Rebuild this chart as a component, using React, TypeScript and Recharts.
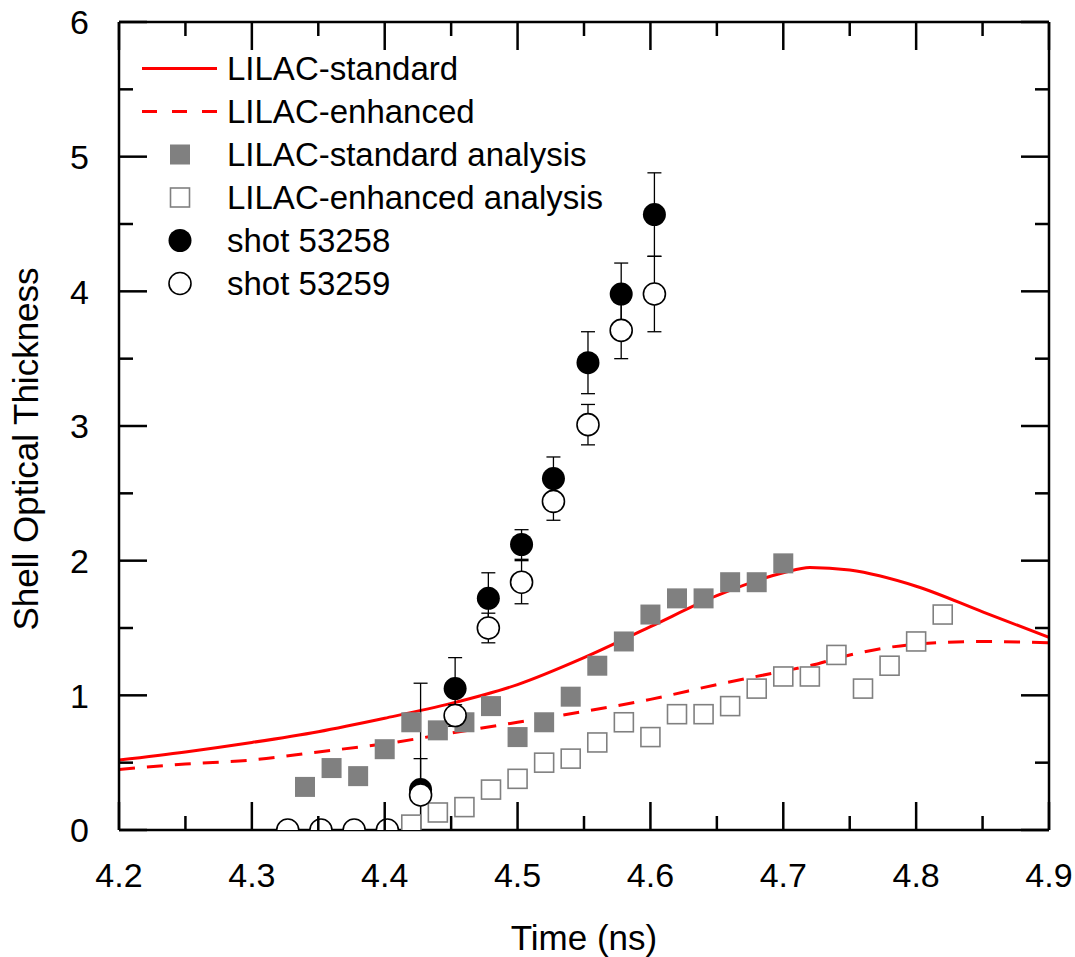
import React from 'react';
import { ComposedChart, Line, Scatter, XAxis, YAxis, ErrorBar, Legend } from 'recharts';

const FONT = '"Liberation Sans", Arial, sans-serif';

// LILAC model curves
const modelTime = [4.2, 4.25, 4.3, 4.35, 4.4, 4.45, 4.5, 4.55, 4.6, 4.65, 4.7, 4.72, 4.75, 4.8, 4.85, 4.9];
const standardModel = [0.52, 0.58, 0.65, 0.73, 0.83, 0.94, 1.08, 1.28, 1.51, 1.74, 1.91, 1.95, 1.93, 1.81, 1.62, 1.43];
const enhancedModel = [0.45, 0.49, 0.52, 0.58, 0.64, 0.72, 0.8, 0.88, 0.97, 1.08, 1.18, 1.22, 1.3, 1.38, 1.4, 1.39];

// analysis points
const standardAnalysisTime = [4.34, 4.36, 4.38, 4.4, 4.42, 4.44, 4.46, 4.48, 4.5, 4.52, 4.54, 4.56, 4.58, 4.6, 4.62, 4.64, 4.66, 4.68, 4.7];
const standardAnalysis = [0.32, 0.46, 0.4, 0.6, 0.8, 0.74, 0.8, 0.92, 0.69, 0.8, 0.99, 1.22, 1.4, 1.6, 1.72, 1.72, 1.84, 1.84, 1.98];
const enhancedAnalysisTime = [4.42, 4.44, 4.46, 4.48, 4.5, 4.52, 4.54, 4.56, 4.58, 4.6, 4.62, 4.64, 4.66, 4.68, 4.7, 4.72, 4.74, 4.76, 4.78, 4.8, 4.82];
const enhancedAnalysis = [0.04, 0.13, 0.17, 0.3, 0.38, 0.5, 0.53, 0.65, 0.8, 0.69, 0.86, 0.86, 0.92, 1.05, 1.14, 1.14, 1.3, 1.05, 1.22, 1.4, 1.6];

// measured shots
const shot53258Time = [4.427, 4.453, 4.478, 4.503, 4.527, 4.553, 4.578, 4.603];
const shot53258 = [0.3, 1.05, 1.72, 2.12, 2.61, 3.47, 3.98, 4.57];
const shot53258Err = [0.79, 0.23, 0.19, 0.11, 0.16, 0.23, 0.23, 0.31];
const shot53259Time = [4.327, 4.352, 4.377, 4.402, 4.427, 4.453, 4.478, 4.503, 4.527, 4.553, 4.578, 4.603];
const shot53259 = [0, 0, 0, 0, 0.26, 0.85, 1.5, 1.84, 2.44, 3.01, 3.71, 3.98];
const shot53259Err = [0, 0, 0, 0, 0.27, 0.08, 0.11, 0.16, 0.14, 0.15, 0.21, 0.28];

// axis ticks (major + minor)
const xTicks = [4.2, 4.25, 4.3, 4.35, 4.4, 4.45, 4.5, 4.55, 4.6, 4.65, 4.7, 4.75, 4.8, 4.85, 4.9];
const yTicks = [0, 0.5, 1, 1.5, 2, 2.5, 3, 3.5, 4, 4.5, 5, 5.5, 6];

// error bars are cut at the bottom of the axis (y = 0)
const toPoints = (ts: number[], vs: number[], es?: number[]) =>
  ts.map((t, i) => ({ t, v: vs[i], err: es ? [Math.min(es[i], vs[i]), es[i]] : 0 }));

const isMajor = (v: number, step: number) => Math.abs(v / step - Math.round(v / step)) < 1e-6;

const MAJOR = 28;
const MINOR = 14;
const AXIS_W = 2.5;

const BottomTick = (props: any) => {
  const { x, y, payload } = props;
  const major = isMajor(payload.value, 0.1);
  return (
    <g>
      <line x1={x} x2={x} y1={y} y2={y - (major ? MAJOR : MINOR)} stroke="#000" strokeWidth={AXIS_W} />
      {major && (
        <text x={x} y={y + 57} textAnchor="middle" fontSize={34} fontFamily={FONT} fill="#000">
          {payload.value.toFixed(1)}
        </text>
      )}
    </g>
  );
};

const TopTick = (props: any) => {
  const { x, y, payload } = props;
  const major = isMajor(payload.value, 0.1);
  return <line x1={x} x2={x} y1={y} y2={y + (major ? MAJOR : MINOR)} stroke="#000" strokeWidth={AXIS_W} />;
};

const LeftTick = (props: any) => {
  const { x, y, payload } = props;
  const major = isMajor(payload.value, 1);
  return (
    <g>
      <line x1={x} x2={x + (major ? MAJOR : MINOR)} y1={y} y2={y} stroke="#000" strokeWidth={AXIS_W} />
      {major && (
        <text x={x - 30} y={y} dy="0.36em" textAnchor="end" fontSize={34} fontFamily={FONT} fill="#000">
          {payload.value}
        </text>
      )}
    </g>
  );
};

const RightTick = (props: any) => {
  const { x, y, payload } = props;
  const major = isMajor(payload.value, 1);
  return <line x1={x} x2={x - (major ? MAJOR : MINOR)} y1={y} y2={y} stroke="#000" strokeWidth={AXIS_W} />;
};

const FilledSquare = (p: any) => <rect x={p.cx - 10} y={p.cy - 10} width={20} height={20} fill="#808080" />;
const OpenSquare = (p: any) => (
  <rect x={p.cx - 9.5} y={p.cy - 9.5} width={19} height={19} fill="#fff" stroke="#808080" strokeWidth={1.6} />
);
const FilledCircle = (p: any) => <circle cx={p.cx} cy={p.cy} r={11.5} fill="#000" />;
const OpenCircle = (p: any) => {
  const r = 11;
  // points sitting on the lower axis are cut by the plot frame
  if (p.payload && p.payload.v === 0) {
    return (
      <path
        d={`M ${p.cx - r} ${p.cy} A ${r} ${r} 0 0 1 ${p.cx + r} ${p.cy}`}
        fill="#fff"
        stroke="#000"
        strokeWidth={1.6}
      />
    );
  }
  return <circle cx={p.cx} cy={p.cy} r={r} fill="#fff" stroke="#000" strokeWidth={1.6} />;
};

const legendRows = [
  { name: 'LILAC-standard', kind: 'solid' },
  { name: 'LILAC-enhanced', kind: 'dashed' },
  { name: 'LILAC-standard analysis', kind: 'fsquare' },
  { name: 'LILAC-enhanced analysis', kind: 'osquare' },
  { name: 'shot 53258', kind: 'fcircle' },
  { name: 'shot 53259', kind: 'ocircle' },
];

const LegendSymbol = ({ kind }: { kind: string }) => {
  const cy = 21.5;
  let el: React.ReactNode = null;
  if (kind === 'solid') el = <line x1={2} x2={77} y1={cy} y2={cy} stroke="#ff0000" strokeWidth={3} />;
  if (kind === 'dashed')
    el = <line x1={2} x2={77} y1={cy} y2={cy} stroke="#ff0000" strokeWidth={3} strokeDasharray="15 15" />;
  if (kind === 'fsquare') el = <FilledSquare cx={40} cy={cy} />;
  if (kind === 'osquare') el = <OpenSquare cx={40} cy={cy} />;
  if (kind === 'fcircle') el = <FilledCircle cx={40} cy={cy} />;
  if (kind === 'ocircle') el = <OpenCircle cx={40} cy={cy} />;
  return (
    <svg width={87} height={43} style={{ display: 'block', flex: 'none' }}>
      {el}
    </svg>
  );
};

const LegendBox = () => (
  <div style={{ fontFamily: FONT, fontSize: 33, color: '#000' }}>
    {legendRows.map((r) => (
      <div key={r.name} style={{ display: 'flex', alignItems: 'center', height: 43, whiteSpace: 'nowrap' }}>
        <LegendSymbol kind={r.kind} />
        <span style={{ lineHeight: '43px' }}>{r.name}</span>
      </div>
    ))}
  </div>
);

const App: React.FC = () => {
  return (
    <div style={{ position: 'absolute', left: 0, top: 0, background: '#fff' }}>
      <ComposedChart width={1075} height={957} margin={{ top: 21, right: 25, bottom: 0, left: 0 }}>
        <XAxis
          xAxisId={0}
          dataKey="t"
          type="number"
          domain={[4.2, 4.9]}
          allowDataOverflow
          ticks={xTicks}
          interval={0}
          height={127}
          tickSize={0}
          tickMargin={0}
          tickLine={false}
          axisLine={{ stroke: '#000', strokeWidth: AXIS_W }}
          tick={(p: any) => <BottomTick {...p} />}
          label={{
            content: (p: any) => {
              const vb = p.viewBox;
              return (
                <text x={vb.x + vb.width / 2} y={vb.y + 120} textAnchor="middle" fontSize={35} fontFamily={FONT} fill="#000">
                  Time (ns)
                </text>
              );
            },
          }}
        />
        <XAxis
          xAxisId="top"
          orientation="top"
          dataKey="t"
          type="number"
          domain={[4.2, 4.9]}
          allowDataOverflow
          ticks={xTicks}
          interval={0}
          height={1}
          tickSize={0}
          tickMargin={0}
          tickLine={false}
          axisLine={{ stroke: '#000', strokeWidth: AXIS_W }}
          tick={(p: any) => <TopTick {...p} />}
        />
        <YAxis
          yAxisId={0}
          dataKey="v"
          type="number"
          domain={[0, 6]}
          allowDataOverflow
          ticks={yTicks}
          interval={0}
          width={119}
          tickSize={0}
          tickMargin={0}
          tickLine={false}
          axisLine={{ stroke: '#000', strokeWidth: AXIS_W }}
          tick={(p: any) => <LeftTick {...p} />}
          label={{
            content: (p: any) => {
              const vb = p.viewBox;
              const cx = vb.x + 25;
              const cy = vb.y + vb.height / 2 + 23;
              return (
                <text
                  x={cx}
                  y={cy}
                  transform={`rotate(-90 ${cx} ${cy})`}
                  textAnchor="middle"
                  dominantBaseline="central"
                  fontSize={35}
                  fontFamily={FONT}
                  fill="#000"
                >
                  Shell Optical Thickness
                </text>
              );
            },
          }}
        />
        <YAxis
          yAxisId="right"
          orientation="right"
          dataKey="v"
          type="number"
          domain={[0, 6]}
          allowDataOverflow
          ticks={yTicks}
          interval={0}
          width={1}
          tickSize={0}
          tickMargin={0}
          tickLine={false}
          axisLine={{ stroke: '#000', strokeWidth: AXIS_W }}
          tick={(p: any) => <RightTick {...p} />}
        />

        <Scatter
          name="LILAC-standard analysis"
          data={toPoints(standardAnalysisTime, standardAnalysis)}
          dataKey="v"
          shape={(p: any) => <FilledSquare {...p} />}
          isAnimationActive={false}
        />
        <Scatter
          name="LILAC-enhanced analysis"
          data={toPoints(enhancedAnalysisTime, enhancedAnalysis)}
          dataKey="v"
          shape={(p: any) => <OpenSquare {...p} />}
          isAnimationActive={false}
        />
        <Line
          name="LILAC-standard"
          data={toPoints(modelTime, standardModel)}
          dataKey="v"
          type="monotone"
          stroke="#ff0000"
          strokeWidth={3}
          dot={false}
          activeDot={false}
          isAnimationActive={false}
        />
        <Line
          name="LILAC-enhanced"
          data={toPoints(modelTime, enhancedModel)}
          dataKey="v"
          type="monotone"
          stroke="#ff0000"
          strokeWidth={3}
          strokeDasharray="16 12"
          dot={false}
          activeDot={false}
          isAnimationActive={false}
        />
        {/* invisible series so the frame axes (top / right) get a scale */}
        <Line
          xAxisId="top"
          yAxisId="right"
          data={toPoints(modelTime, standardModel)}
          dataKey="v"
          stroke="none"
          dot={false}
          activeDot={false}
          legendType="none"
          isAnimationActive={false}
        />
        <Scatter
          name="shot 53258"
          data={toPoints(shot53258Time, shot53258, shot53258Err)}
          dataKey="v"
          shape={(p: any) => <FilledCircle {...p} />}
          isAnimationActive={false}
        >
          <ErrorBar dataKey="err" direction="y" width={7} stroke="#000" strokeWidth={1.3} />
        </Scatter>
        <Scatter
          name="shot 53259"
          data={toPoints(shot53259Time, shot53259, shot53259Err)}
          dataKey="v"
          shape={(p: any) => <OpenCircle {...p} />}
          isAnimationActive={false}
        >
          <ErrorBar dataKey="err" direction="y" width={7} stroke="#000" strokeWidth={1.3} />
        </Scatter>

        <Legend
          layout="vertical"
          align="center"
          verticalAlign="middle"
          content={() => <LegendBox />}
          wrapperStyle={{ left: 140, top: 47, width: 'auto', height: 'auto' }}
        />
      </ComposedChart>
    </div>
  );
};

export default App;
